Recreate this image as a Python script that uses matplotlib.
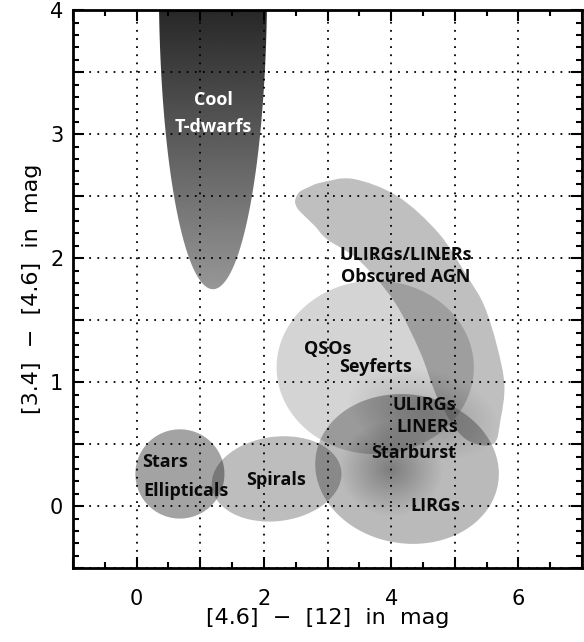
import numpy as np
import matplotlib.pyplot as plt
from matplotlib.patches import Polygon, PathPatch
from matplotlib.path import Path
from matplotlib.ticker import MultipleLocator, FuncFormatter

# axis ranges
x_range = (-1, 7)
y_range = (-0.5, 4)

# grey regions: center x, center y, length along x, height along y, tilt (deg), darkness
region_names = ['QSOs/Seyferts', 'LIRGs', 'Spirals', 'Stars/Ellipticals']
region_cx = [3.75, 4.25, 2.20, 0.68]
region_cy = [1.12, 0.30, 0.22, 0.26]
region_w = [3.10, 2.90, 2.05, 1.40]
region_h = [1.40, 1.20, 0.68, 0.72]
region_ang = [0, -10, 8, 0]
region_alpha = [0.17, 0.27, 0.26, 0.36]

# ULIRGs/LINERs/Obscured AGN band outline
band_x = [2.49, 2.55, 2.69, 2.90, 3.40, 4.10, 4.75, 5.20, 5.46, 5.66, 5.78, 5.72, 5.60,
          5.15, 4.75, 4.45, 4.05, 3.50, 3.00, 2.80, 2.62, 2.53]
band_y = [2.46, 2.53, 2.57, 2.61, 2.64, 2.50, 2.20, 1.85, 1.62, 1.30, 0.98, 0.70, 0.50,
          0.55, 0.85, 1.25, 1.65, 1.98, 2.15, 2.26, 2.35, 2.40]
band_alpha = 0.25

# soft darker zones (Starburst core, ULIRGs/LINERs)
soft_cx = [4.00, 4.50]
soft_cy = [0.30, 0.75]
soft_w = [1.60, 2.40]
soft_h = [0.75, 0.70]
soft_ang = [0, -15]
soft_alpha = [0.016, 0.009]
soft_steps = 20

# T-dwarf region
tdwarf_c = (1.2, 4.2)
tdwarf_w = 1.7
tdwarf_h = 4.9

# labels
label_text = ['ULIRGs/LINERs', 'Obscured AGN', 'QSOs', 'Seyferts', 'ULIRGs', 'LINERs',
              'Starburst', 'LIRGs', 'Stars', 'Ellipticals', 'Spirals']
label_x = [4.23, 4.23, 3.00, 3.76, 4.52, 4.57, 4.36, 4.69, 0.45, 0.77, 2.19]
label_y = [2.03, 1.85, 1.27, 1.12, 0.82, 0.64, 0.43, 0.00, 0.36, 0.12, 0.21]

S = 2.0  # rough screen aspect (y units vs x units)


def ellipse_xy(cx, cy, w, h, ang, n=200):
    t = np.linspace(0, 2 * np.pi, n)
    a = w / 2.0
    b = h * S / 2.0
    th = np.radians(ang)
    ex = a * np.cos(t)
    ey = b * np.sin(t)
    x = cx + ex * np.cos(th) - ey * np.sin(th)
    y = cy * S + ex * np.sin(th) + ey * np.cos(th)
    return np.column_stack([x, y / S])


def smooth_closed_path(xs, ys):
    # closed Catmull-Rom outline turned into cubic Bezier segments
    p = np.column_stack([xs, np.array(ys) * S])
    n = len(p)
    verts = [p[0]]
    codes = [Path.MOVETO]
    for i in range(n):
        p0, p1, p2, p3 = p[i - 1], p[i], p[(i + 1) % n], p[(i + 2) % n]
        verts += [p1 + (p2 - p0) / 6.0, p2 - (p3 - p1) / 6.0, p2]
        codes += [Path.CURVE4] * 3
    verts = np.array(verts)
    verts[:, 1] /= S
    return Path(verts, codes)


fig = plt.figure(figsize=(5.84, 6.42), dpi=100)
ax = fig.add_axes([0.125, 0.115, 0.8716, 0.869])
ax.set_xlim(*x_range)
ax.set_ylim(*y_range)

for i in range(len(region_names)):
    pts = ellipse_xy(region_cx[i], region_cy[i], region_w[i], region_h[i], region_ang[i])
    ax.add_patch(Polygon(pts, closed=True, facecolor='black', edgecolor='none',
                         alpha=region_alpha[i], zorder=1))

ax.add_patch(PathPatch(smooth_closed_path(band_x, band_y), facecolor='black',
                       edgecolor='none', alpha=band_alpha, zorder=1))

# soft zones as stacked shrinking ellipses
for i in range(len(soft_cx)):
    for k in range(soft_steps):
        f = 1.0 - k / soft_steps
        pts = ellipse_xy(soft_cx[i], soft_cy[i], soft_w[i] * f, soft_h[i] * f, soft_ang[i])
        ax.add_patch(Polygon(pts, closed=True, facecolor='black', edgecolor='none',
                             alpha=soft_alpha[i], zorder=1))

# T-dwarfs with vertical gradient
tpts = ellipse_xy(tdwarf_c[0], tdwarf_c[1], tdwarf_w, tdwarf_h, 0)
tpatch = Polygon(tpts, closed=True, facecolor='none', edgecolor='none')
ax.add_patch(tpatch)
grad = np.linspace(0, 1, 256).reshape(-1, 1)
img = ax.imshow(grad, extent=[0.2, 2.2, 1.7, 4.0], origin='upper', cmap='gray',
                vmin=-0.35, vmax=1.9, aspect='auto', zorder=2)
img.set_clip_path(tpatch)

# grid
ax.grid(True, which='major', color='black', linestyle=(0, (1, 3.5)), linewidth=1.3)
ax.set_axisbelow(False)

ax.xaxis.set_major_locator(MultipleLocator(1))
ax.xaxis.set_minor_locator(MultipleLocator(0.5))
ax.yaxis.set_major_locator(MultipleLocator(0.5))
ax.yaxis.set_minor_locator(MultipleLocator(0.1))
ax.xaxis.set_major_formatter(FuncFormatter(lambda v, p: '%d' % v if round(v) % 2 == 0 and v > -1 else ''))
ax.yaxis.set_major_formatter(FuncFormatter(lambda v, p: '%d' % v if abs(v - round(v)) < 1e-6 else ''))
ax.tick_params(which='both', direction='in', top=True, right=True, width=1.5, labelsize=15)
ax.tick_params(which='major', length=8)
ax.tick_params(which='minor', length=4)
ax.tick_params(axis='x', which='major', pad=15)
ax.tick_params(axis='y', which='major', pad=7)
for sp in ax.spines.values():
    sp.set_linewidth(2)
    sp.set_zorder(5)

ax.set_xlabel('[4.6]  −  [12]  in  mag', fontsize=16, labelpad=-1)
ax.set_ylabel('[3.4]  −  [4.6]  in  mag', fontsize=16, labelpad=6)

for t, x, y in zip(label_text, label_x, label_y):
    ax.text(x, y, t, ha='center', va='center', fontsize=13, fontweight='bold',
            family='Open Sans', color='#0a0a0a', zorder=4)
ax.text(tdwarf_c[0], 3.28, 'Cool', ha='center', va='center', fontsize=13,
        fontweight='bold', family='Open Sans', color='white', zorder=4)
ax.text(tdwarf_c[0], 3.06, 'T-dwarfs', ha='center', va='center', fontsize=13,
        fontweight='bold', family='Open Sans', color='white', zorder=4)

fig.savefig('out.png', dpi=100)
